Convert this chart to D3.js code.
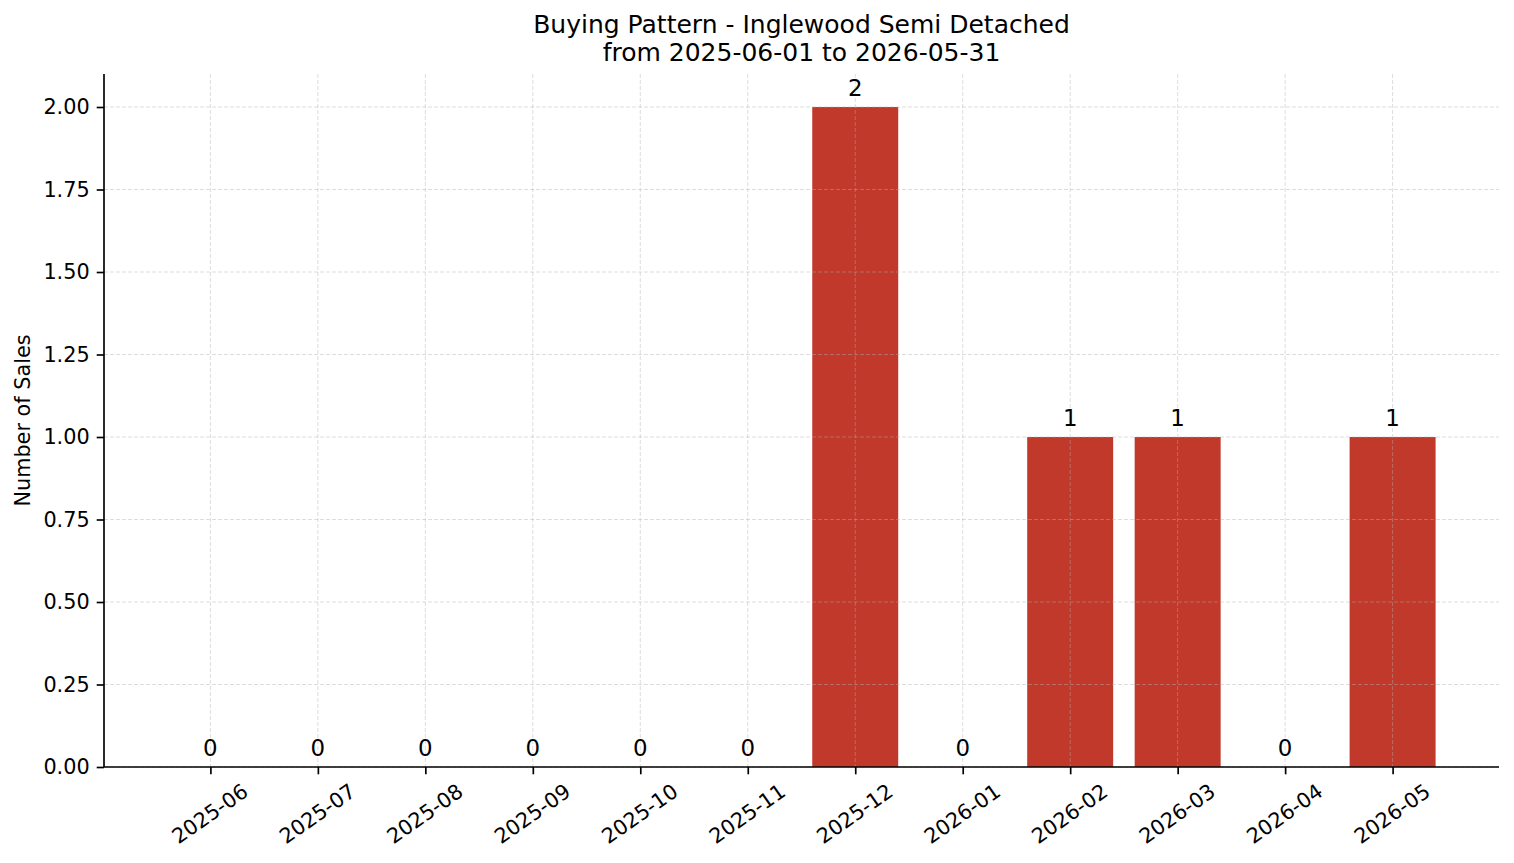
<!DOCTYPE html>
<html><head><meta charset="utf-8">
<script src="https://cdn.jsdelivr.net/npm/d3@7"></script>
<style>body{margin:0;background:#fff}svg{display:block}text{font-family:"DejaVu Sans",sans-serif;fill:#000}</style>
</head><body>
<script>
const months = ["2025-06","2025-07","2025-08","2025-09","2025-10","2025-11","2025-12","2026-01","2026-02","2026-03","2026-04","2026-05"];
const sales = [0,0,0,0,0,0,2,0,1,1,0,1];
const yTicks = [0,0.25,0.5,0.75,1.0,1.25,1.5,1.75,2.0];
const titleLines = ["Buying Pattern - Inglewood Semi Detached","from 2025-06-01 to 2026-05-31"];
const yLabel = "Number of Sales";

const W=1514,H=863;
const m={l:104,r:1499,t:74,b:767};
const svg=d3.select("body").append("svg").attr("width",W).attr("height",H);

const x=d3.scaleLinear().domain([-0.99,11.99]).range([m.l,m.r]);
const y=d3.scaleLinear().domain([0,2.1]).range([m.b,m.t]);
const bw=(x(0.8)-x(0));

// bars
svg.append("g").selectAll("rect").data(sales).join("rect")
  .attr("x",(d,i)=>x(i)-bw/2).attr("width",bw)
  .attr("y",d=>y(d)).attr("height",d=>y(0)-y(d))
  .attr("fill","#c0392b");

// grid
const grid=svg.append("g").attr("stroke","#b0b0b0").attr("stroke-opacity",0.55).attr("stroke-width",0.8).attr("stroke-dasharray","4,2");
grid.selectAll(".gx").data(months).join("line")
  .attr("x1",(d,i)=>x(i)).attr("x2",(d,i)=>x(i)).attr("y1",m.t).attr("y2",m.b);
grid.selectAll(".gy").data(yTicks).join("line")
  .attr("x1",m.l).attr("x2",m.r).attr("y1",d=>y(d)).attr("y2",d=>y(d));

// axes
const yAxis=d3.axisLeft(y).tickValues(yTicks).tickFormat(d3.format(".2f")).tickSize(7.3).tickPadding(7);
const gy=svg.append("g").attr("transform",`translate(${m.l},0)`).call(yAxis);
gy.selectAll("text").style("font-size","20.8px").attr("font-family","DejaVu Sans");
gy.select(".domain").attr("stroke-width",1.67).attr("d",`M0,${m.b}V${m.t}`);
gy.selectAll(".tick line").attr("stroke-width",1.67);

const xAxis=d3.axisBottom(x).tickValues(d3.range(months.length)).tickFormat(i=>months[i]).tickSize(7.3).tickPadding(0);
const gx=svg.append("g").attr("transform",`translate(0,${m.b})`).call(xAxis);
gx.select(".domain").attr("stroke-width",1.67).attr("d",`M${m.l},0H${m.r}`);
gx.selectAll(".tick line").attr("stroke-width",1.67);
const ang=35*Math.PI/180;
gx.selectAll(".tick text").style("font-size","20.8px").attr("font-family","DejaVu Sans")
  .attr("text-anchor","middle").attr("dy","0.35em").attr("y",0)
  .each(function(){
    const L=this.getComputedTextLength();
    const h=20.8*1.17;
    const bh=L*Math.sin(ang)+h*Math.cos(ang);
    const top=7.3+4.5;
    d3.select(this).attr("transform",`translate(-1,${top+bh/2}) rotate(-35)`);
  });

// bar labels
svg.append("g").selectAll("text").data(sales).join("text")
  .attr("x",(d,i)=>x(i)).attr("y",d=>y(d)-11)
  .attr("text-anchor","middle").style("font-size","22.9px").text(d=>d);

// title
svg.append("g").selectAll("text").data(titleLines).join("text")
  .attr("x",(m.l+m.r)/2).attr("y",(d,i)=>33+i*28)
  .attr("text-anchor","middle").style("font-size","25px").text(d=>d);

// y label
svg.append("text").attr("transform",`translate(30,${(m.t+m.b)/2}) rotate(-90)`)
  .attr("text-anchor","middle").style("font-size","20.8px").text(yLabel);
</script>
</body></html>
